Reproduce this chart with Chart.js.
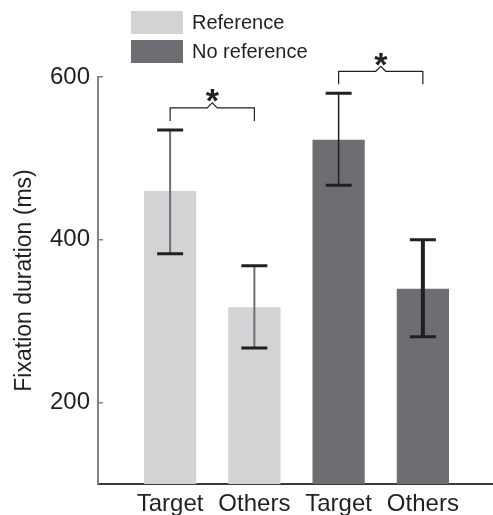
<!DOCTYPE html>
<html>
<head>
<meta charset="utf-8">
<script src="https://cdn.jsdelivr.net/npm/chart.js@4.4.0/dist/chart.umd.min.js"></script>
<style>
  html, body { margin: 0; padding: 0; background: #fff; }
  #wrap { position: relative; width: 493px; height: 515px; font-family: "Liberation Sans", Arial, sans-serif; color: #231f20; }
  #legend { position: absolute; left: 131px; top: 11px; }
  .item { display: flex; align-items: center; height: 23px; margin-bottom: 6px; font-size: 20px; }
  .swatch { width: 52px; height: 23px; margin-right: 9px; }
</style>
</head>
<body>
<div id="wrap">
  <canvas id="chart" width="493" height="515"></canvas>
  <div id="legend"></div>
</div>
<script>
const categories = ['Target', 'Others', 'Target', 'Others']
const referenceMeans = [460, 317, null, null]
const referenceLow = [383, 267, null, null]
const referenceHigh = [535, 368, null, null]
const noReferenceMeans = [null, null, 523, 340]
const noReferenceLow = [null, null, 467, 281]
const noReferenceHigh = [null, null, 580, 400]
const yTicks = [200, 400, 600]
const significantPairs = [[0, 1], [2, 3]]

const textColor = '#231f20'
const fontFamily = '"Liberation Sans", Arial, sans-serif'

// shrink the bar positions inside the axis, like the original figure
const xInsetPlugin = {
    id: 'xInset',
    afterLayout(chart) {
        const x = chart.scales.x
        x._startPixel = x.left + 30
        x._endPixel = x.right - 28
        x._length = x._endPixel - x._startPixel
    }
}

const errorBarsPlugin = {
    id: 'errorBars',
    afterDatasetsDraw(chart, args, opts) {
        const ctx = chart.ctx
        const y = chart.scales.y
        const centers = []
        const tops = []

        ctx.save()
        chart.data.datasets.forEach((ds, di) => {
            const meta = chart.getDatasetMeta(di)
            ds.data.forEach((v, i) => {
                if (v === null) return
                const x = meta.data[i].x
                const yLow = y.getPixelForValue(ds.low[i])
                const yHigh = y.getPixelForValue(ds.high[i])
                centers[i] = x
                tops[i] = yHigh

                ctx.strokeStyle = opts.stemColors[i]
                ctx.lineWidth = opts.stemWidths[i]
                ctx.beginPath()
                ctx.moveTo(x, yLow)
                ctx.lineTo(x, yHigh)
                ctx.stroke()

                ctx.strokeStyle = textColor
                ctx.lineWidth = 3
                ctx.beginPath()
                ctx.moveTo(x - 13, yLow)
                ctx.lineTo(x + 13, yLow)
                ctx.moveTo(x - 13, yHigh)
                ctx.lineTo(x + 13, yHigh)
                ctx.stroke()
            })
        })

        // significance brackets
        significantPairs.forEach(([a, b]) => {
            const top = Math.min(tops[a], tops[b])
            const legY = top - 9
            const lineY = top - 22
            const mid = (centers[a] + centers[b]) / 2
            ctx.strokeStyle = textColor
            ctx.lineWidth = 1.2
            ctx.beginPath()
            ctx.moveTo(centers[a], legY)
            ctx.lineTo(centers[a], lineY)
            ctx.lineTo(mid - 5, lineY)
            ctx.lineTo(mid, lineY - 5)
            ctx.lineTo(mid + 5, lineY)
            ctx.lineTo(centers[b], lineY)
            ctx.lineTo(centers[b], legY)
            ctx.stroke()

            ctx.fillStyle = textColor
            ctx.font = 'bold 34px ' + fontFamily
            ctx.textAlign = 'center'
            ctx.textBaseline = 'alphabetic'
            const m = ctx.measureText('*')
            const h = m.actualBoundingBoxAscent - m.actualBoundingBoxDescent
            ctx.fillText('*', mid, lineY - 12 + h / 2)
        })
        ctx.restore()
    }
}

const chart = new Chart(document.getElementById('chart'), {
    type: 'bar',
    data: {
        labels: categories,
        datasets: [{
            label: 'Reference',
            data: referenceMeans,
            low: referenceLow,
            high: referenceHigh,
            backgroundColor: '#d1d3d4'
        }, {
            label: 'No reference',
            data: noReferenceMeans,
            low: noReferenceLow,
            high: noReferenceHigh,
            backgroundColor: '#6d6e71'
        }]
    },
    options: {
        responsive: false,
        animation: false,
        layout: {
            padding: { top: 77, left: 0, right: 0, bottom: 0 }
        },
        datasets: {
            bar: {
                skipNull: true,
                categoryPercentage: 1,
                barPercentage: 0.62
            }
        },
        plugins: {
            legend: { display: false },
            tooltip: { enabled: false },
            errorBars: {
                stemColors: ['#6d6e71', '#6d6e71', textColor, textColor],
                stemWidths: [2, 2, 1.5, 4]
            }
        },
        scales: {
            x: {
                grid: { display: false },
                border: { color: '#3a3a3c', width: 2 },
                ticks: {
                    color: textColor,
                    font: { family: fontFamily, size: 24 },
                    padding: -2,
                    autoSkip: false,
                    maxRotation: 0
                },
                afterFit: (scale) => { scale.height = 31 }
            },
            y: {
                min: 100,
                max: 600,
                afterBuildTicks: (scale) => {
                    scale.ticks = yTicks.map(v => ({ value: v }))
                },
                grid: {
                    drawOnChartArea: false,
                    tickLength: -5,
                    color: '#808285',
                    lineWidth: 1.5
                },
                border: { color: '#808285', width: 2 },
                ticks: {
                    color: textColor,
                    font: { family: fontFamily, size: 24 },
                    padding: 13
                },
                title: {
                    display: true,
                    text: 'Fixation duration (ms)',
                    color: textColor,
                    font: { family: fontFamily, size: 23 },
                    padding: { top: 11, bottom: 0 }
                },
                afterFit: (scale) => { scale.width = 98 }
            }
        }
    },
    plugins: [xInsetPlugin, errorBarsPlugin]
})

// vertical legend like the original figure
const legendEl = document.getElementById('legend')
chart.data.datasets.forEach(ds => {
    const item = document.createElement('div')
    item.className = 'item'
    const swatch = document.createElement('span')
    swatch.className = 'swatch'
    swatch.style.background = ds.backgroundColor
    const text = document.createElement('span')
    text.textContent = ds.label
    item.appendChild(swatch)
    item.appendChild(text)
    legendEl.appendChild(item)
})
</script>
</body>
</html>
